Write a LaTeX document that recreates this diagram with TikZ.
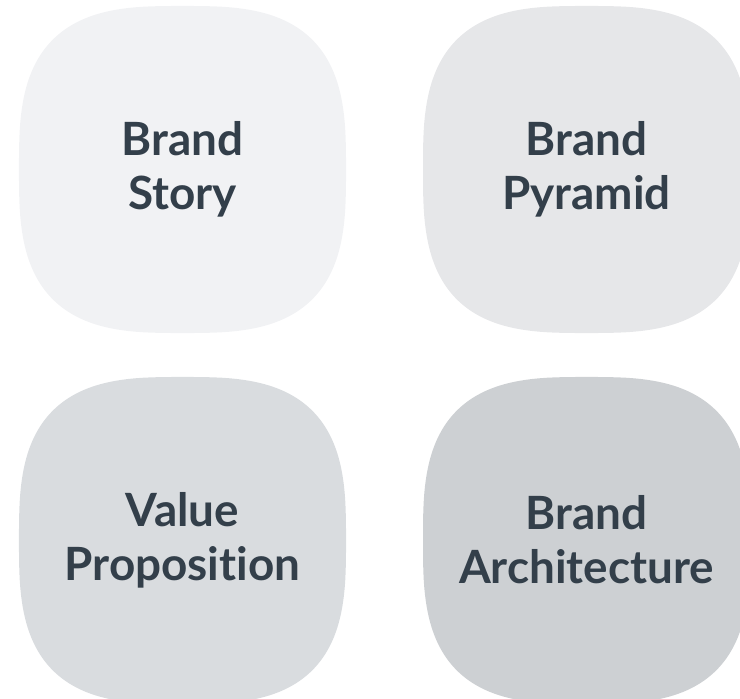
\documentclass[tikz,border=0pt]{standalone}
\usepackage{fontspec}
\setmainfont{Lato}[Ligatures=NoCommon]
\usepackage{tikz}
\usetikzlibrary{positioning}

\definecolor{tileA}{HTML}{F1F2F4}
\definecolor{tileB}{HTML}{E6E7E9}
\definecolor{tileC}{HTML}{D9DCDF}
\definecolor{tileD}{HTML}{CDD0D3}
\definecolor{ink}{HTML}{333F4A}

\tikzset{
	label text/.style={align=center, text=ink, font=\bfseries\fontsize{46}{54}\selectfont, inner sep=0pt},
	squircle/.style={domain=1:361, samples=181}
}

\begin{document}
\begin{tikzpicture}[x=1bp, y=-1bp]

	\clip (0,0) rectangle (740,699);

	% four rounded tiles (superellipse, n = 3)
	\fill[tileA, shift={(182.5,169.5)}] plot[squircle] ({163.5*sign(cos(\x))*pow(abs(cos(\x)),2/3)}, {163.5*sign(sin(\x))*pow(abs(sin(\x)),2/3)}) -- cycle;
	\fill[tileB, shift={(586.5,169.5)}] plot[squircle] ({163.5*sign(cos(\x))*pow(abs(cos(\x)),2/3)}, {163.5*sign(sin(\x))*pow(abs(sin(\x)),2/3)}) -- cycle;
	\fill[tileC, shift={(182.5,540.5)}] plot[squircle] ({163.5*sign(cos(\x))*pow(abs(cos(\x)),2/3)}, {163.5*sign(sin(\x))*pow(abs(sin(\x)),2/3)}) -- cycle;
	\fill[tileD, shift={(586.5,540.5)}] plot[squircle] ({163.5*sign(cos(\x))*pow(abs(cos(\x)),2/3)}, {163.5*sign(sin(\x))*pow(abs(sin(\x)),2/3)}) -- cycle;

	\node (story)[label text] at (182.5,169) {Brand\\Story};
	\node (pyramid)[label text] at (586.5,169) {Brand\\Pyramid};
	\node (value)[label text] at (182.5,540) {Value\\Proposition};
	\node (arch)[label text] at (586.5,540) {Brand\\Architecture};

\end{tikzpicture}
\end{document}
